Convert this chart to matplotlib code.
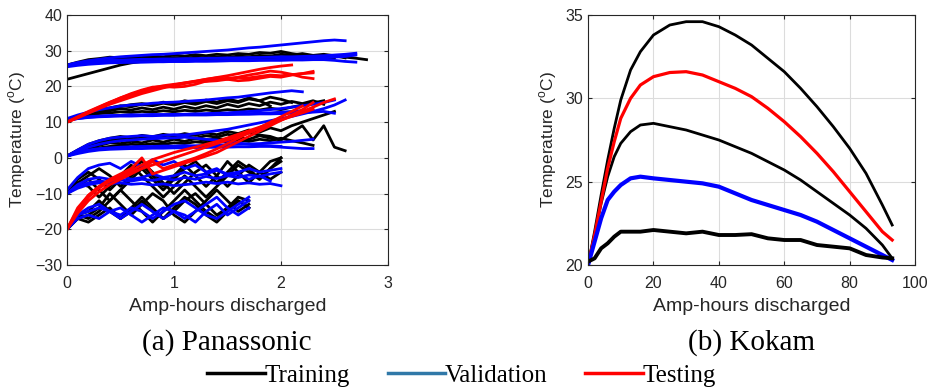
import matplotlib
matplotlib.use("Agg")
import matplotlib.pyplot as plt
from matplotlib.lines import Line2D

plt.rcParams['font.family'] = ['Liberation Sans', 'DejaVu Sans']
plt.rcParams['mathtext.fontset'] = 'custom'
plt.rcParams['mathtext.rm'] = 'Liberation Sans'

# amp-hour grid shared by the Panasonic traces
ah_grid = [0.0, 0.1, 0.2, 0.3, 0.4, 0.5, 0.6, 0.7, 0.8, 0.9, 1.0, 1.1, 1.2, 1.3, 1.4,
           1.5, 1.6, 1.7, 1.8, 1.9, 2.0, 2.1, 2.2, 2.3, 2.4, 2.5, 2.6, 2.7, 2.8]

# Panasonic, training (black)
pan_train_25 = [
    [22.0, 22.8, 23.6, 24.4, 25.2, 26.0, 26.6, 27.0, 27.2, 27.3, 27.4, 27.5, 27.5, 27.6, 27.7,
     27.8, 27.9, 28.0, 28.0, 28.2, 28.3, 28.4, 28.5, 28.6, 28.4, 28.7, 28.2, 27.9, 27.5],
    [26.0, 26.5, 27.0, 27.3, 27.6, 27.5, 27.9, 27.7, 28.0, 27.8, 28.1, 27.9, 28.2, 28.0, 28.3,
     28.1, 28.5, 28.3, 28.7, 28.5, 29.0, 28.8, 29.2, 28.7, 29.0, 28.6, 28.0],
    [26.0, 26.8, 27.5, 27.8, 28.2, 28.0, 28.4, 28.1, 28.5, 28.3, 28.8, 28.5, 28.9, 28.6, 29.0,
     28.8, 29.2, 29.0, 29.5, 29.3, 29.8, 29.2, 28.8, 28.5],
    [25.8, 26.3, 26.7, 27.0, 27.2, 27.1, 27.4, 27.2, 27.5, 27.3, 27.6, 27.4, 27.7, 27.5, 27.8,
     27.6, 27.9, 27.7, 28.0, 27.8, 28.1, 27.9, 28.0, 27.8, 28.2, 28.0],
]
pan_train_10 = [
    [10.5, 11.5, 12.5, 13.5, 14.0, 14.6, 14.3, 15.0, 14.6, 15.3, 14.8, 15.5, 15.0, 15.8, 15.2,
     16.0, 15.5, 16.5, 16.0, 17.0, 16.4, 15.5],
    [10.5, 11.3, 12.0, 12.8, 13.2, 13.8, 13.4, 14.0, 13.5, 14.2, 13.6, 14.4, 13.8, 14.6, 14.0,
     15.0, 14.3, 15.2, 14.6, 15.6, 15.0, 15.8, 15.2, 16.0, 15.0],
    [10.8, 11.5, 12.0, 12.4, 12.6, 12.9, 12.7, 13.0, 12.8, 13.2, 12.9, 13.3, 13.0, 13.4, 13.1,
     13.5, 13.2, 13.7, 13.4, 13.9, 13.5, 14.2, 14.8, 15.4, 16.0],
    [10.5, 11.6, 12.5, 13.2, 13.8, 14.4, 14.9, 15.2, 14.8, 15.6, 15.0, 16.0, 15.4, 16.2, 15.6,
     16.5, 15.8, 16.8, 16.0, 14.5],
]
pan_train_0 = [
    [0.5, 2.0, 3.3, 4.2, 4.8, 5.3, 5.0, 5.6, 5.2, 5.8, 5.4, 6.0, 5.5, 6.2, 5.8,
     6.6, 6.0, 7.0, 6.4, 6.0, 5.0, 7.0, 9.0, 5.0, 9.0, 3.0, 2.0],
    [0.5, 1.8, 2.8, 3.5, 4.2, 4.0, 4.6, 4.2, 5.0, 4.4, 5.2, 4.6, 5.4, 4.8, 5.5,
     5.0, 5.8, 5.2, 6.2, 5.5, 5.0],
    [0.5, 1.5, 2.3, 2.8, 3.2, 3.5, 3.8, 3.6, 4.0, 3.8, 4.2, 4.0, 4.5, 4.2, 4.8,
     4.5, 5.0, 4.6, 5.2, 4.8, 5.5, 4.8, 4.2, 3.5],
    [0.5, 2.2, 3.8, 4.8, 5.5, 6.0, 5.6, 6.3, 5.9, 6.6, 6.1, 6.8, 6.3, 7.0, 6.5,
     7.4, 6.8, 7.8, 7.2, 8.4, 7.6, 9.0, 10.0, 11.0, 12.0, 13.0],
]
pan_train_m10 = [
    [-10, -7, -5, -3, -5, -8, -5, -2, -5, -8, -5, -2, -5, -8, -5, -1, -4, -7, -4, -1, 0],
    [-10, -8, -6, -9, -12, -9, -6, -3, -6, -9, -6, -3, -1, -4, -7, -4, -1, -3, -6, -3, 0],
    [-10, -7, -8, -11, -8, -5, -2, -5, -8, -11, -8, -5, -8, -11, -8, -5, -2, -4, -6, -3, -1],
    [-10, -6, -4, -6, -9, -6, -3, -1, -4, -7, -10, -7, -4, -2, -5, -8, -5, -2, -4, -6, -4],
]
pan_train_m20 = [
    [-20, -16, -15, -12, -15, -17, -14, -11, -14, -17, -14, -11, -13, -16, -18, -15, -12, -14],
    [-20, -17, -16, -14, -10, -13, -16, -13, -10, -12, -16, -18, -15, -12, -9, -12, -15, -13],
    [-20, -16, -17, -15, -12, -9, -12, -15, -18, -15, -12, -9, -12, -15, -17, -14, -11, -12],
    [-20, -17, -18, -16, -14, -17, -15, -12, -15, -17, -15, -12, -10, -13, -16, -14, -12, -14],
]

# Panasonic, validation (blue)
pan_valid_25 = [
    [26.0, 26.7, 27.2, 27.6, 28.0, 28.3, 28.5, 28.7, 28.9, 29.0, 29.2, 29.4, 29.6, 29.8, 30.0,
     30.2, 30.5, 30.8, 31.0, 31.3, 31.6, 31.9, 32.2, 32.5, 32.8, 33.0, 32.8],
    [25.5, 25.9, 26.2, 26.4, 26.6, 26.7, 26.8, 26.8, 26.9, 26.9, 27.0, 27.0, 27.1, 27.1, 27.2,
     27.2, 27.3, 27.3, 27.4, 27.5, 27.6, 27.7, 27.8, 27.9, 28.0, 28.2, 28.4, 28.8],
    [26.0, 26.5, 26.9, 27.1, 27.3, 27.4, 27.5, 27.6, 27.6, 27.7, 27.7, 27.8, 27.8, 27.9, 27.9,
     28.0, 28.0, 28.1, 28.1, 28.2, 28.3, 28.3, 28.4, 28.5, 28.6, 28.8, 29.0, 29.3],
    [25.8, 26.2, 26.5, 26.6, 26.7, 26.8, 26.8, 26.9, 26.9, 27.0, 27.0, 27.0, 27.1, 27.1, 27.1,
     27.2, 27.2, 27.2, 27.3, 27.3, 27.3, 27.4, 27.4, 27.5, 27.5, 27.3, 27.0, 26.8],
]
pan_valid_10 = [
    [11.0, 12.0, 12.8, 13.5, 14.0, 14.5, 14.8, 15.0, 15.3, 15.5, 15.6, 15.8, 16.0, 16.2, 16.5,
     16.8, 17.0, 17.4, 17.8, 18.2, 18.5, 18.8, 18.5],
    [10.5, 11.0, 11.3, 11.5, 11.6, 11.7, 11.7, 11.8, 11.8, 11.9, 11.9, 12.0, 12.0, 12.0, 12.1,
     12.1, 12.2, 12.2, 12.3, 12.3, 12.4, 12.5, 12.6, 12.8, 13.0, 12.5],
    [10.5, 11.0, 11.4, 11.6, 11.8, 11.9, 12.0, 12.0, 12.1, 12.1, 12.2, 12.2, 12.3, 12.4, 12.5,
     12.6, 12.8, 13.0, 13.2, 13.5, 13.8, 14.2, 14.6, 15.0, 15.5, 16.2],
    [10.8, 11.2, 11.5, 11.7, 11.8, 11.9, 12.0, 12.0, 12.1, 12.1, 12.1, 12.2, 12.2, 12.2, 12.3,
     12.3, 12.3, 12.4, 12.5, 12.6, 12.8, 13.0, 13.2, 13.4],
]
pan_valid_0 = [
    [0.5, 2.2, 3.8, 4.8, 5.5, 5.8, 6.0, 6.2, 6.0, 6.3, 6.5, 6.4, 6.8, 7.2, 7.6,
     8.0, 8.6, 9.2, 9.8, 10.4, 11.0, 11.6, 12.3, 13.0, 13.8, 14.8, 16.2],
    [0.5, 1.5, 2.2, 2.6, 2.8, 3.0, 3.1, 3.2, 3.2, 3.3, 3.3, 3.4, 3.4, 3.5, 3.6,
     3.7, 3.8, 3.9, 4.0, 4.2, 4.4, 4.6, 4.9, 5.2],
    [0.5, 1.2, 1.8, 2.2, 2.4, 2.5, 2.6, 2.6, 2.7, 2.7, 2.8, 2.8, 2.9, 2.9, 3.0,
     3.0, 3.1, 3.1, 3.2, 3.2, 3.0, 2.8, 2.6, 2.6],
    [0.5, 1.8, 3.0, 3.8, 4.4, 4.8, 5.0, 5.2, 5.4, 5.5, 5.6, 5.8, 5.5, 5.2, 5.0,
     4.6, 4.2, 3.8, 3.5, 3.4, 3.2],
]
pan_valid_m10 = [
    [-10, -7.5, -6, -5.5, -6, -5, -6, -5.5, -4.5, -5.5, -5, -4, -5, -4.5, -3.5, -4.5, -4, -3, -4, -3.5, -3],
    [-10, -8, -7, -6.5, -6.8, -6.2, -6.5, -6, -6.3, -5.8, -6.2, -5.5, -6, -5.2, -5.8, -5, -5.5, -4.8, -5.2, -4.5, -4],
    [-10, -8.5, -7.5, -7, -7.2, -7, -7.4, -7.2, -7.6, -7.3, -7.8, -7.5, -7.2, -6.8, -7.2, -6.8, -7.3, -7, -7.4, -7.2, -7.8],
    [-9, -5.5, -3, -2, -1.5, -3, -1, -2.5, -0.5, -2, -1, -3, -2, -4, -3, -5, -4.5, -6, -5, -6.5],
]
pan_valid_m20 = [
    [-20, -16, -15, -14, -15, -17, -15, -13, -15, -17, -15, -16, -18, -15, -13, -16, -14, -12],
    [-20, -17, -16, -17, -15, -14, -16, -18, -16, -14, -15, -17, -15, -13, -11, -14, -16, -14],
    [-20, -16, -14, -13, -15, -16, -14, -15, -17, -15, -13, -12, -14, -16, -17, -15, -13, -11],
]

# Panasonic, testing (red)
pan_test_10 = [
    [10.0, 11.5, 13.0, 14.3, 15.6, 16.8, 17.8, 18.8, 19.6, 20.2, 20.6, 21.0, 21.5, 22.0, 22.5,
     23.0, 23.6, 24.2, 24.8, 25.3, 25.7, 26.0],
    [10.0, 11.3, 12.7, 14.0, 15.4, 16.8, 18.0, 19.0, 19.8, 20.0, 19.8, 20.0, 20.6, 21.5, 22.0,
     22.3, 22.5, 22.4, 22.8, 23.2, 23.0, 23.3, 23.6, 23.8],
    [10.0, 11.4, 12.8, 14.2, 15.5, 16.6, 17.6, 18.5, 19.2, 19.8, 20.4, 21.0, 21.4, 21.4, 21.6,
     22.0, 22.6, 23.2, 23.7, 24.3, 24.0, 23.4, 22.6, 22.2],
    [10.0, 11.2, 12.5, 13.8, 15.0, 16.0, 17.0, 18.0, 18.8, 19.6, 20.2, 20.8, 21.4, 22.0, 22.4,
     22.0, 21.6, 21.8, 22.3, 22.8, 22.6, 23.2, 23.6, 24.2],
]
pan_test_m20 = [
    [-20, -15, -11, -8.5, -6.5, -5, -3.5, -2, -0.5, 0.5, 1.5, 2.3, 3.0, 3.8, 4.6,
     5.6, 6.6, 7.6, 8.6, 9.6, 10.6, 11.6, 12.6, 13.6],
    [-20, -14.5, -10.5, -8, -6, -4.5, -3, 0, -4.5, -3.5, -2.5, -1.5, -0.5, 0.5, 1.5,
     3, 4.5, 6, 7.5, 9, 10.5, 12, 13.5, 15.5],
    [-20, -15.5, -12, -9.5, -7.5, -6, -4.5, -3, -2, -1, 0, 1, 2, 3, 4,
     5, 6, 7, 8.2, 9.4, 10.6, 11.8, 13, 14.2, 15.5, 16.5],
    [-20, -14, -10.5, -8, -6.5, -5.5, -4, -3, -1, -3, -2, -1, 0, 1.2, 2.5,
     4, 5.5, 7, 8.5, 10, 11.5, 13, 14.5],
]

# Kokam cells
kokam_ah = [0, 2, 4, 6, 8, 10, 13, 16, 20, 25, 30, 35, 40, 45, 50, 55, 60, 65, 70, 75, 80, 85, 90, 93]
kokam_train_hot = [20.0, 22.0, 24.2, 26.3, 28.2, 29.9, 31.7, 32.8, 33.8, 34.4, 34.6, 34.6, 34.3,
                   33.8, 33.2, 32.4, 31.6, 30.6, 29.5, 28.3, 27.0, 25.5, 23.6, 22.4]
kokam_test = [20.0, 21.8, 23.8, 25.8, 27.4, 28.8, 30.0, 30.8, 31.3, 31.55, 31.6, 31.4, 31.0,
              30.6, 30.1, 29.4, 28.6, 27.7, 26.7, 25.6, 24.4, 23.2, 22.0, 21.5]
kokam_train_mid = [20.0, 21.8, 23.7, 25.3, 26.5, 27.3, 28.0, 28.4, 28.5, 28.3, 28.1, 27.8, 27.5,
                   27.1, 26.7, 26.2, 25.7, 25.1, 24.4, 23.7, 23.0, 22.2, 21.2, 20.4]
kokam_valid = [20.0, 21.4, 22.8, 23.9, 24.4, 24.8, 25.2, 25.3, 25.2, 25.1, 25.0, 24.9, 24.7,
               24.3, 23.9, 23.6, 23.3, 23.0, 22.6, 22.1, 21.6, 21.1, 20.6, 20.3]
kokam_train_cool = [20.2, 20.4, 21.0, 21.3, 21.7, 22.0, 22.0, 22.0, 22.1, 22.0, 21.9, 22.0, 21.8,
                    21.8, 21.85, 21.6, 21.5, 21.5, 21.2, 21.1, 21.0, 20.6, 20.45, 20.4]

BLACK = '#000000'
BLUE = '#0000ff'
RED = '#ff0000'
AXCOL = '#262626'


def style_axes(ax):
    ax.grid(True, color='#dcdcdc', linewidth=0.8)
    ax.set_axisbelow(True)
    ax.tick_params(direction='in', length=3, top=True, right=True,
                   labelsize=11.5, colors=AXCOL, labelcolor=AXCOL)
    ax.tick_params(axis='x', pad=8)
    for sp in ax.spines.values():
        sp.set_color(AXCOL)
        sp.set_linewidth(0.8)
    ax.set_xlabel('Amp-hours discharged', fontsize=14, color=AXCOL, labelpad=5)
    ax.set_ylabel('Temperature ($^{\\mathrm{o}}$C)', fontsize=12.5, color=AXCOL, labelpad=5)


fig = plt.figure(figsize=(9.29, 3.9), dpi=100)
ax1 = fig.add_axes([0.0721, 0.3205, 0.3455, 0.641])
ax2 = fig.add_axes([0.633, 0.3205, 0.352, 0.641])

#panasonic traces
for group, col in [(pan_train_25 + pan_train_10 + pan_train_0 + pan_train_m10 + pan_train_m20, BLACK),
                   (pan_valid_25 + pan_valid_10 + pan_valid_0 + pan_valid_m10 + pan_valid_m20, BLUE),
                   (pan_test_10 + pan_test_m20, RED)]:
    for temps in group:
        ax1.plot(ah_grid[:len(temps)], temps, color=col, linewidth=2.0)
ax1.set_xlim(0, 3)
ax1.set_ylim(-30, 40)
ax1.set_xticks([0, 1, 2, 3])
ax1.set_yticks(range(-30, 41, 10))
style_axes(ax1)

#kokam traces
ax2.plot(kokam_ah, kokam_train_hot, color=BLACK, linewidth=2.0)
ax2.plot(kokam_ah, kokam_train_mid, color=BLACK, linewidth=2.0)
ax2.plot(kokam_ah, kokam_test, color=RED, linewidth=2.3)
ax2.plot(kokam_ah, kokam_valid, color=BLUE, linewidth=3.0)
ax2.plot(kokam_ah, kokam_train_cool, color=BLACK, linewidth=2.8)
ax2.set_xlim(0, 100)
ax2.set_ylim(20, 35)
ax2.set_xticks(range(0, 101, 20))
ax2.set_yticks([20, 25, 30, 35])
style_axes(ax2)

serif = ['Liberation Serif', 'DejaVu Serif']
fig.text(0.2445, 0.1026, '(a) Panassonic', ha='center', va='baseline', fontsize=21, family=serif)
fig.text(0.809, 0.1026, '(b) Kokam', ha='center', va='baseline', fontsize=21, family=serif)

handles = [Line2D([], [], color=BLACK, linewidth=2.5),
           Line2D([], [], color='#3078a8', linewidth=2.5),
           Line2D([], [], color=RED, linewidth=2.5)]
fig.legend(handles, ['Training', 'Validation', 'Testing'], loc='center', ncol=3,
           bbox_to_anchor=(0.497, 0.036), frameon=False, prop={'family': serif, 'size': 18},
           handlelength=2.3, handletextpad=0.0, columnspacing=1.5, borderpad=0, borderaxespad=0)

fig.savefig('out.png', dpi=100)
